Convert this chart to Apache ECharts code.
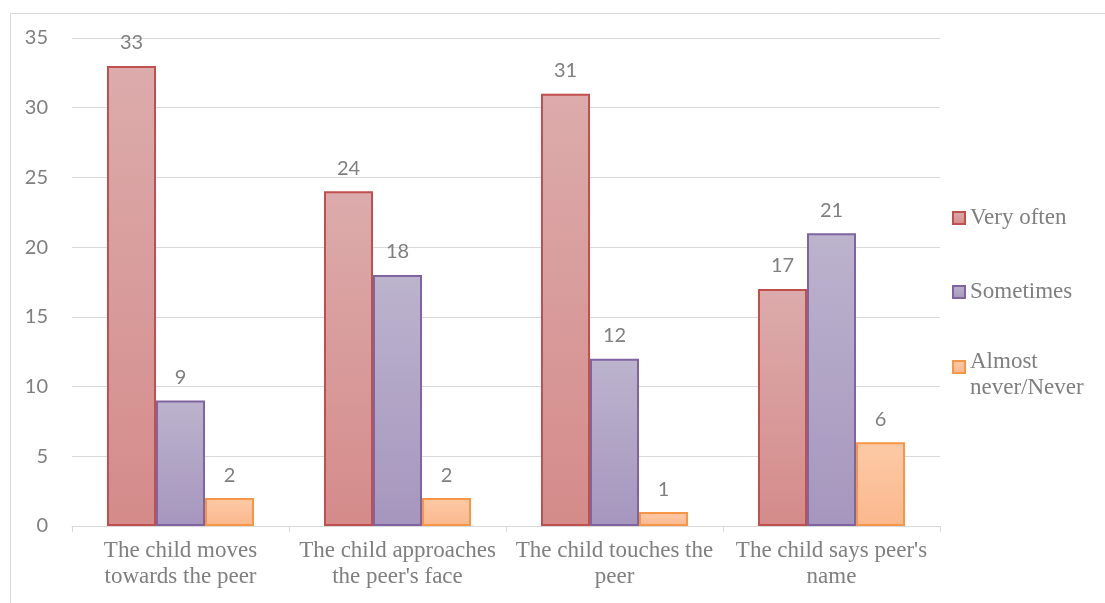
<!DOCTYPE html>
<html>
<head>
<meta charset="utf-8">
<script src="https://cdn.jsdelivr.net/npm/echarts@6/dist/echarts.min.js"></script>
<style>
  html, body { margin: 0; padding: 0; background: #fff; }
  #chart { width: 1105px; height: 603px; }
</style>
</head>
<body>
<div id="chart"></div>
<script>
// categories (line breaks as in the original chart)
var categories = [
  'The child moves\ntowards the peer',
  'The child approaches\nthe peer\'s face',
  'The child touches the\npeer',
  'The child says peer\'s\nname'
];
var seriesNames = ['Very often', 'Sometimes', 'Almost never/Never'];
var veryOften = [33, 24, 31, 17];
var sometimes = [9, 18, 12, 21];
var almostNever = [2, 2, 1, 6];
var yTicks = { min: 0, max: 35, interval: 5 };

var SERIF = '"Liberation Serif", "Times New Roman", serif';
var SANS = 'Lato, "Noto Sans", sans-serif';
var GREY = '#7f7f7f';

function grad(top, bottom) {
  return new echarts.graphic.LinearGradient(0, 0, 0, 1, [
    { offset: 0, color: top }, { offset: 1, color: bottom }
  ]);
}

function barSeries(name, values, top, bottom, border) {
  return {
    name: name,
    type: 'bar',
    data: values,
    barWidth: 49,
    barGap: '0%',
    itemStyle: { color: grad(top, bottom), borderColor: border, borderWidth: 2 },
    label: {
      show: true, position: 'top', distance: 13,
      color: GREY, fontFamily: SANS, fontSize: 20
    }
  };
}

// one legend per entry so each can sit where the original puts it
function legendAt(name, top) {
  return {
    data: [name], orient: 'vertical', left: 952, top: top, padding: 0,
    icon: 'rect', itemWidth: 12, itemHeight: 12, itemGap: 0, selectedMode: false,
    formatter: function (n) {
      // wrapped entry: a short spacer line keeps the icon beside the first line
      return n === 'Almost never/Never' ? '{p| }\n{t|Almost}\n{t|never/Never}' : n;
    },
    textStyle: {
      color: GREY, fontFamily: SERIF, fontSize: 23, lineHeight: 26,
      rich: {
        p: { fontSize: 10, lineHeight: 16 },
        t: { color: GREY, fontFamily: SERIF, fontSize: 23, lineHeight: 26 }
      }
    }
  };
}

var chart = echarts.init(document.getElementById('chart'));
chart.setOption({
  animation: false,
  backgroundColor: '#fff',
  graphic: [{
    type: 'rect', left: 8, top: 11,
    shape: { width: 1200, height: 700 },
    style: { fill: 'none', stroke: '#d9d9d9', lineWidth: 1 },
    silent: true
  }],
  legend: [
    legendAt(seriesNames[0], 205),
    legendAt(seriesNames[1], 279),
    legendAt(seriesNames[2], 333)
  ],
  grid: { left: 72, right: 165, top: 38, bottom: 77 },
  xAxis: {
    type: 'category',
    data: categories,
    axisLine: { lineStyle: { color: '#d9d9d9', width: 1 } },
    axisTick: { show: true, length: 6, lineStyle: { color: '#d9d9d9' } },
    axisLabel: {
      interval: 0, margin: 12, color: GREY,
      fontFamily: SERIF, fontSize: 23, lineHeight: 26
    }
  },
  yAxis: {
    type: 'value',
    min: yTicks.min, max: yTicks.max, interval: yTicks.interval,
    axisLine: { show: false },
    axisTick: { show: false },
    splitLine: { lineStyle: { color: '#d9d9d9', width: 1 } },
    axisLabel: { margin: 24, color: GREY, fontFamily: SANS, fontSize: 20 }
  },
  series: [
    barSeries(seriesNames[0], veryOften, '#dcabab', '#d48b8a', '#c0504d'),
    barSeries(seriesNames[1], sometimes, '#bcb3cd', '#a696be', '#8064a2'),
    barSeries(seriesNames[2], almostNever, '#fccaa6', '#fbb88e', '#f79646')
  ]
});
</script>
</body>
</html>
